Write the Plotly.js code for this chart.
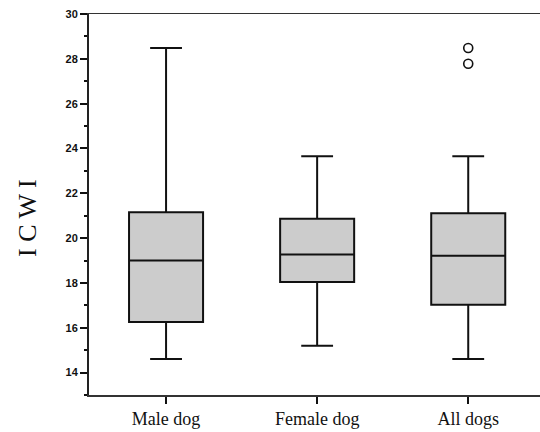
<!DOCTYPE html>
<html>
<head>
<meta charset="utf-8">
<script src="https://cdn.plot.ly/plotly-3.0.1.min.js"></script>
<style>html,body{margin:0;padding:0;background:#fff;}#chart{width:540px;height:432px;}</style>
</head>
<body>
<div id="chart"></div>
<script>
var categories = ["Male dog", "Female dog", "All dogs"];
var lowerWhisker = [14.61, 15.2, 14.61];
var q1Values = [16.26, 18.04, 17.03];
var medianValues = [19.0, 19.27, 19.21];
var q3Values = [21.15, 20.86, 21.11];
var upperWhisker = [28.48, 23.65, 23.65];
var outlierCategory = ["All dogs", "All dogs"];
var outlierValues = [28.48, 27.78];
var yTickValues = [14, 16, 18, 20, 22, 24, 26, 28, 30];
var yTitleText = "I C W I";

var boxTrace = {
  type: "box",
  x: categories,
  q1: q1Values,
  median: medianValues,
  q3: q3Values,
  lowerfence: lowerWhisker,
  upperfence: upperWhisker,
  boxpoints: false,
  fillcolor: "#cccccc",
  line: {color: "#111111", width: 2},
  width: 0.49,
  whiskerwidth: 0.43,
  hoverinfo: "skip",
  showlegend: false
};

var outlierTrace = {
  type: "scatter",
  mode: "markers",
  x: outlierCategory,
  y: outlierValues,
  marker: {symbol: "circle-open", size: 9, color: "#111111", line: {width: 1.6, color: "#111111"}},
  hoverinfo: "skip",
  showlegend: false
};

var layout = {
  width: 540,
  height: 432,
  margin: {l: 89, r: 0, t: 14, b: 37, pad: 0},
  paper_bgcolor: "#ffffff",
  plot_bgcolor: "#ffffff",
  showlegend: false,
  xaxis: {
    type: "category",
    range: [-0.51, 2.475],
    showgrid: false,
    zeroline: false,
    showline: true,
    linecolor: "#333333",
    linewidth: 1.5,
    mirror: true,
    ticks: "outside",
    ticklen: 7,
    tickwidth: 2,
    tickcolor: "#111111",
    tickfont: {family: "Liberation Serif, Times New Roman, serif", size: 18, color: "#111111"}
  },
  yaxis: {
    range: [13, 30],
    tickvals: yTickValues,
    showgrid: false,
    zeroline: false,
    showline: true,
    linecolor: "#222222",
    linewidth: 2,
    ticks: "outside",
    ticklen: 7,
    tickwidth: 2,
    tickcolor: "#111111",
    minor: {ticks: "outside", ticklen: 3, tickwidth: 2, dtick: 1, tickcolor: "#111111", showgrid: false},
    tickfont: {family: "Liberation Sans, Arial, sans-serif", size: 11, color: "#111111", weight: "bold"}
  },
  annotations: [{
    text: yTitleText,
    xref: "paper",
    yref: "paper",
    x: -0.1375,
    y: 0.4645,
    xanchor: "center",
    yanchor: "middle",
    textangle: -90,
    showarrow: false,
    font: {family: "Liberation Serif, Times New Roman, serif", size: 26, color: "#111111"}
  }]
};

Plotly.newPlot("chart", [boxTrace, outlierTrace], layout, {staticPlot: true, displayModeBar: false});
</script>
</body>
</html>
